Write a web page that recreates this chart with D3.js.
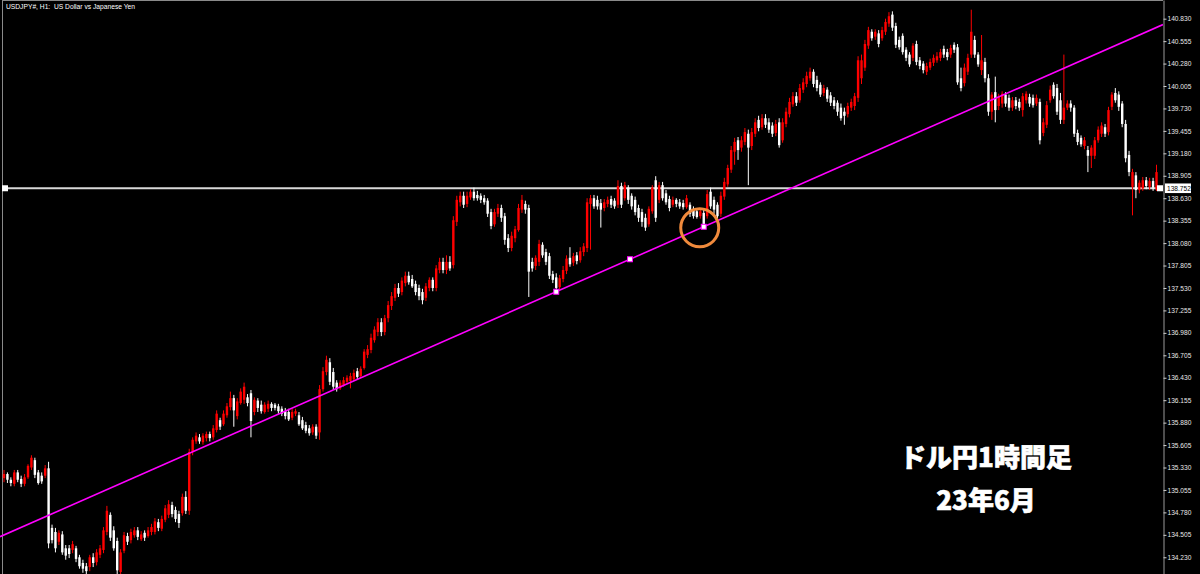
<!DOCTYPE html>
<html><head><meta charset="utf-8">
<script src="https://cdn.jsdelivr.net/npm/d3@7"></script>
<style>html,body{margin:0;padding:0;background:#000;overflow:hidden}</style>
</head><body><svg id="c" width="1200" height="574"></svg>
<script>
const openP=[
135.20,135.25,135.18,135.13,135.27,135.19,135.13,135.21,135.33,135.42,
135.27,135.23,135.23,135.32,134.59,134.54,134.42,134.51,134.34,134.34,
134.32,134.34,134.23,134.16,134.12,134.11,134.23,134.17,134.26,134.32,
134.54,134.75,134.56,134.43,134.05,134.31,134.49,134.44,134.50,134.56,
134.45,134.53,134.49,134.54,134.54,134.66,134.58,134.69,134.75,134.87,
134.81,134.76,134.77,134.97,134.80,135.52,135.65,135.70,135.64,135.69,
135.74,135.70,135.79,135.91,135.86,135.97,136.07,136.18,135.96,136.12,
136.16,136.19,136.24,136.01,136.15,136.10,136.01,136.05,136.11,136.10,
136.08,136.05,136.02,136.01,135.94,135.99,135.97,135.91,135.85,135.81,
135.76,135.83,135.76,136.29,136.50,136.62,136.50,136.37,136.30,136.34,
136.38,136.39,136.41,136.51,136.45,136.55,136.71,136.77,136.89,136.99,
137.11,136.99,137.16,137.31,137.41,137.53,137.48,137.59,137.68,137.64,
137.58,137.53,137.48,137.41,137.53,137.63,137.53,137.75,137.85,137.75,
137.85,137.81,138.34,138.58,138.66,138.56,138.64,138.71,138.67,138.66,
138.63,138.60,138.46,138.31,138.44,138.51,138.41,138.14,138.02,138.14,
138.24,138.49,138.56,138.51,137.85,137.80,137.85,138.06,137.97,137.92,
137.70,137.66,137.54,137.64,137.74,137.90,137.84,137.93,137.87,137.97,
138.02,138.56,138.63,138.61,138.57,138.51,138.56,138.62,138.60,138.55,
138.78,138.63,138.76,138.66,138.61,138.51,138.46,138.39,138.31,138.47,
138.85,138.61,138.79,138.69,138.62,138.55,138.61,138.58,138.57,138.52,
138.55,138.50,138.47,138.41,138.45,138.41,138.71,138.61,138.55,138.44,
138.65,138.80,138.98,139.20,139.34,139.25,139.32,139.42,139.27,139.42,
139.59,139.50,139.61,139.56,139.52,139.43,139.56,139.34,139.54,139.66,
139.78,139.88,139.83,139.96,140.03,140.10,140.18,140.08,140.02,139.92,
139.96,139.89,139.83,139.80,139.74,139.69,139.66,139.74,139.76,139.86,
140.10,140.23,140.50,140.67,140.61,140.65,140.59,140.67,140.77,140.88,
140.74,140.57,140.62,140.45,140.39,140.35,140.52,140.32,140.28,140.18,
140.23,140.29,140.32,140.35,140.46,140.42,140.39,140.51,140.48,140.10,
140.04,140.18,140.39,140.57,140.39,140.20,140.30,140.10,139.69,139.93,
139.76,139.79,139.90,139.86,139.74,139.83,139.81,139.71,139.83,139.87,
139.86,139.79,139.81,139.43,139.53,139.83,140.02,139.98,139.83,139.59,
139.74,139.79,139.74,139.43,139.37,139.27,139.22,139.15,139.15,139.34,
139.42,139.50,139.44,139.75,139.92,139.90,139.79,139.54,139.16,138.77,
138.91,138.73,138.75,138.85,138.77,138.84,138.74];
const highP=[
135.30,135.27,135.21,135.30,135.30,135.23,135.25,135.37,135.48,135.45,
135.30,135.27,135.36,135.40,134.63,134.59,134.56,134.55,134.38,134.38,
134.43,134.37,134.26,134.20,134.16,134.26,134.28,134.33,134.38,134.60,
134.86,134.78,134.61,134.47,134.33,134.54,134.53,134.58,134.60,134.60,
134.55,134.56,134.60,134.64,134.71,134.70,134.74,134.87,134.93,134.91,
134.85,134.80,135.01,135.04,135.56,135.70,135.76,135.74,135.75,135.77,
135.77,135.85,136.03,135.94,136.03,136.12,136.26,136.22,136.18,136.30,
136.37,136.23,136.28,136.19,136.18,136.15,136.13,136.15,136.13,136.12,
136.11,136.08,136.06,136.05,136.05,136.05,136.01,135.95,135.89,135.85,
135.86,135.86,136.34,136.56,136.70,136.67,136.55,136.40,136.40,136.44,
136.46,136.49,136.53,136.55,136.57,136.78,136.83,136.97,137.06,137.16,
137.16,137.20,137.37,137.48,137.58,137.59,137.66,137.73,137.73,137.69,
137.62,137.57,137.52,137.59,137.66,137.66,137.81,137.90,137.90,137.93,
137.92,138.41,138.66,138.71,138.71,138.71,138.74,138.76,138.72,138.69,
138.67,138.63,138.50,138.50,138.56,138.55,138.45,138.19,138.22,138.29,
138.56,138.67,138.60,138.55,137.90,137.93,138.12,138.09,138.01,137.96,
137.74,137.71,137.69,137.80,137.93,138.03,137.96,137.97,138.03,138.08,
138.63,138.67,138.67,138.66,138.62,138.62,138.65,138.66,138.63,138.85,
138.82,138.83,138.79,138.69,138.65,138.55,138.50,138.44,138.53,138.79,
138.90,138.83,138.83,138.73,138.66,138.65,138.63,138.62,138.61,138.67,
138.58,138.53,138.51,138.51,138.49,138.73,138.76,138.65,138.58,138.71,
138.88,139.04,139.27,139.37,139.38,139.39,139.49,139.47,139.49,139.61,
139.64,139.66,139.66,139.61,139.56,139.59,139.61,139.61,139.74,139.86,
139.93,139.93,140.03,140.10,140.18,140.23,140.21,140.13,140.05,140.02,
139.99,139.93,139.87,139.83,139.79,139.74,139.80,139.85,139.92,140.37,
140.39,140.57,140.73,140.70,140.70,140.69,140.73,140.83,140.91,140.92,
140.78,140.61,140.65,140.48,140.42,140.53,140.56,140.36,140.31,140.29,
140.34,140.39,140.42,140.46,140.50,140.46,140.51,140.54,140.52,140.23,
140.28,140.40,140.94,140.62,140.42,140.63,140.35,140.15,139.93,140.12,
139.91,139.94,139.93,139.90,139.87,139.87,139.85,139.92,139.94,139.91,
139.90,139.90,139.85,139.61,139.82,140.01,140.05,140.03,139.92,140.39,
139.83,139.83,139.77,139.47,139.40,139.38,139.27,139.28,139.38,139.51,
139.56,139.54,139.75,139.93,139.98,139.94,139.82,139.59,139.21,138.99,
138.95,138.85,138.89,138.89,138.88,138.88,139.04];
const lowP=[
135.15,135.14,135.10,135.10,135.15,135.09,135.10,135.19,135.30,135.20,
135.12,135.13,135.20,134.34,134.40,134.29,134.38,134.26,134.20,134.22,
134.28,134.17,134.09,134.04,134.02,134.06,134.11,134.13,134.22,134.28,
134.50,134.43,134.31,134.02,134.00,134.28,134.38,134.40,134.47,134.44,
134.43,134.43,134.47,134.50,134.51,134.55,134.55,134.66,134.71,134.72,
134.66,134.59,134.74,134.76,134.75,135.48,135.62,135.62,135.61,135.65,
135.65,135.67,135.76,135.79,135.84,135.94,136.03,135.83,135.92,136.10,
136.11,136.08,135.70,135.97,136.01,135.99,135.99,136.01,136.02,136.03,
135.99,135.96,135.92,135.90,135.91,135.96,135.84,135.79,135.75,135.72,
135.73,135.68,135.67,136.26,136.46,136.34,136.28,136.26,136.28,136.32,
136.35,136.30,136.39,136.41,136.43,136.53,136.67,136.73,136.86,136.94,
136.94,136.95,137.11,137.26,137.37,137.42,137.44,137.55,137.57,137.53,
137.44,137.38,137.33,137.37,137.49,137.49,137.49,137.71,137.71,137.70,
137.74,137.77,138.29,138.53,138.51,138.52,138.61,138.60,138.60,138.57,
138.55,138.40,138.25,138.28,138.40,138.34,138.06,137.97,137.98,138.09,
138.22,138.45,138.44,137.42,137.73,137.75,137.80,137.90,137.81,137.64,
137.59,137.48,137.51,137.60,137.70,137.79,137.80,137.82,137.84,137.92,
137.97,138.00,138.50,138.49,138.27,138.47,138.52,138.51,138.50,138.51,
138.51,138.60,138.56,138.49,138.42,138.34,138.28,138.23,138.28,138.44,
138.34,138.57,138.60,138.55,138.47,138.52,138.52,138.50,138.49,138.50,
138.40,138.38,138.38,138.38,138.28,138.38,138.50,138.44,138.38,138.40,
138.61,138.77,138.94,139.04,139.10,139.20,139.28,138.79,139.22,139.38,
139.45,139.47,139.49,139.43,139.38,139.39,139.25,139.31,139.50,139.62,
139.75,139.76,139.80,139.92,139.99,140.07,139.99,139.94,139.87,139.88,
139.81,139.76,139.72,139.64,139.58,139.53,139.62,139.70,139.71,139.81,
140.03,140.19,140.46,140.56,140.57,140.48,140.56,140.63,140.73,140.68,
140.47,140.45,140.39,140.31,140.24,140.31,140.26,140.21,140.16,140.14,
140.20,140.25,140.29,140.31,140.35,140.32,140.35,140.41,140.02,139.94,
140.00,140.14,140.35,140.35,140.24,140.14,140.05,139.64,139.59,139.56,
139.71,139.74,139.75,139.70,139.70,139.72,139.70,139.63,139.79,139.75,
139.74,139.76,139.29,139.39,139.49,139.80,139.85,139.65,139.54,139.54,
139.71,139.69,139.38,139.28,139.26,139.23,138.95,139.00,139.11,139.31,
139.38,139.38,139.40,139.71,139.80,139.70,139.50,139.07,138.90,138.42,
138.63,138.69,138.72,138.74,138.73,138.72,138.72];
const closeP=[
135.25,135.18,135.14,135.27,135.18,135.13,135.21,135.35,135.45,135.24,
135.14,135.16,135.32,134.40,134.44,134.34,134.53,134.29,134.25,134.27,
134.39,134.21,134.12,134.09,134.06,134.23,134.16,134.29,134.34,134.56,
134.80,134.47,134.34,134.07,134.29,134.50,134.42,134.54,134.56,134.48,
134.51,134.47,134.56,134.60,134.67,134.59,134.70,134.83,134.88,134.76,
134.70,134.65,134.97,134.80,135.52,135.67,135.72,135.65,135.72,135.74,
135.69,135.81,135.99,135.83,135.99,136.08,136.18,136.03,136.14,136.26,
136.32,136.12,135.90,136.16,136.06,136.02,136.10,136.11,136.06,136.06,
136.02,135.99,135.96,135.92,136.01,136.02,135.86,135.81,135.78,135.75,
135.83,135.72,136.29,136.51,136.65,136.38,136.32,136.29,136.37,136.40,
136.43,136.45,136.49,136.44,136.54,136.75,136.78,136.92,137.02,137.11,
136.99,137.16,137.32,137.43,137.53,137.46,137.62,137.68,137.60,137.55,
137.48,137.43,137.38,137.55,137.63,137.53,137.77,137.85,137.75,137.85,
137.77,138.36,138.61,138.66,138.55,138.66,138.71,138.63,138.63,138.61,
138.58,138.44,138.29,138.46,138.51,138.39,138.12,138.02,138.17,138.25,
138.51,138.61,138.49,137.73,137.77,137.90,138.07,137.93,137.85,137.68,
137.63,137.53,137.65,137.75,137.89,137.82,137.92,137.86,137.98,138.04,
138.58,138.63,138.53,138.53,138.49,138.58,138.61,138.55,138.53,138.78,
138.55,138.79,138.61,138.53,138.46,138.39,138.34,138.27,138.50,138.76,
138.39,138.79,138.63,138.58,138.51,138.61,138.56,138.53,138.52,138.63,
138.44,138.41,138.40,138.47,138.31,138.68,138.53,138.49,138.41,138.66,
138.83,139.00,139.22,139.32,139.22,139.34,139.44,139.25,139.44,139.56,
139.49,139.61,139.53,139.47,139.42,139.54,139.28,139.56,139.69,139.81,
139.88,139.80,139.98,140.05,140.13,140.18,140.03,139.98,139.90,139.98,
139.85,139.80,139.76,139.69,139.61,139.64,139.76,139.81,139.88,140.32,
140.32,140.52,140.69,140.59,140.67,140.52,140.69,140.79,140.86,140.72,
140.51,140.48,140.42,140.35,140.27,140.50,140.30,140.25,140.20,140.25,
140.30,140.35,140.37,140.42,140.39,140.36,140.47,140.45,140.05,139.98,
140.23,140.35,140.67,140.39,140.27,140.32,140.10,139.69,139.90,139.71,
139.87,139.91,139.79,139.74,139.83,139.76,139.74,139.88,139.91,139.79,
139.77,139.86,139.34,139.56,139.77,139.96,139.88,139.69,139.59,139.74,
139.79,139.74,139.42,139.32,139.29,139.34,139.15,139.25,139.34,139.47,
139.52,139.42,139.71,139.90,139.83,139.75,139.54,139.12,138.95,138.95,
138.73,138.82,138.85,138.78,138.84,138.76,138.95];

const yTicks=[140.830,140.555,140.280,140.005,139.730,139.455,139.180,138.905,138.630,138.355,
138.080,137.805,137.530,137.255,136.980,136.705,136.430,136.155,135.880,135.605,
135.330,135.055,134.780,134.505,134.230];
const hLinePrice=138.752;
const trendAnchorIdx=[161,204];
const trendAnchorPrice=[137.484,138.28];
const titleText="USDJPY#, H1:  US Dollar vs Japanese Yen";
const captionLines=["ドル円1時間足","23年6月"];

const W=1200,H=574,axisX=1163;
const N=closeP.length;
const x=d3.scaleLinear().domain([0,N-1]).range([4,1156.5]);
const y=d3.scaleLinear().domain([134.025,141.059]).range([H,0]);

const svg=d3.select("#c");
svg.append("rect").attr("width",W).attr("height",H).attr("fill","#000");
const defs=svg.append("defs");
defs.append("clipPath").attr("id","plot").append("rect").attr("x",0).attr("y",0).attr("width",axisX).attr("height",H);

// frame
svg.append("line").attr("x1",2.5).attr("x2",2.5).attr("y1",0).attr("y2",H).attr("stroke","#8a8a8a").attr("stroke-width",1);
svg.append("line").attr("x1",2).attr("x2",axisX).attr("y1",0.5).attr("y2",0.5).attr("stroke","#8a8a8a").attr("stroke-width",1);

const plot=svg.append("g").attr("clip-path","url(#plot)");
const data=d3.range(N).map(i=>({i,o:openP[i],h:highP[i],l:lowP[i],c:closeP[i]}));
const col=d=>d.c>d.o?"#ff0000":"#ffffff";

// horizontal line
const yh=y(hLinePrice);
plot.append("line").attr("x1",2).attr("x2",axisX).attr("y1",yh).attr("y2",yh).attr("stroke","#d8d8d8").attr("stroke-width",2);

// candles
const cg=plot.append("g");
cg.selectAll("line.w").data(data).join("line").attr("class","w")
  .attr("x1",d=>x(d.i)).attr("x2",d=>x(d.i)).attr("y1",d=>y(d.h)).attr("y2",d=>y(d.l))
  .attr("stroke",col).attr("stroke-width",1);
cg.selectAll("rect.b").data(data).join("rect").attr("class","b")
  .attr("x",d=>x(d.i)-1.2).attr("width",2.4)
  .attr("y",d=>y(Math.max(d.o,d.c))).attr("height",d=>Math.max(1,Math.abs(y(d.o)-y(d.c))))
  .attr("fill",col);

// trend line
const tx0=x(trendAnchorIdx[0]),ty0=y(trendAnchorPrice[0]);
const tx1=x(trendAnchorIdx[1]),ty1=y(trendAnchorPrice[1]);
const slope=(ty1-ty0)/(tx1-tx0);
plot.append("line").attr("x1",0).attr("y1",ty0+(0-tx0)*slope)
  .attr("x2",axisX).attr("y2",ty0+(axisX-tx0)*slope)
  .attr("stroke","#ff00ff").attr("stroke-width",1.6);
const markers=[[tx0,ty0],[(tx0+tx1)/2,(ty0+ty1)/2],[tx1,ty1]];
plot.selectAll("rect.tm").data(markers).join("rect").attr("class","tm")
  .attr("x",d=>d[0]-2.5).attr("y",d=>d[1]-2.5).attr("width",5).attr("height",5)
  .attr("fill","#fff").attr("stroke","#ff00ff").attr("stroke-width",1);

// hline markers
plot.append("rect").attr("x",2).attr("y",yh-3).attr("width",6).attr("height",6).attr("fill","#fff");
plot.append("rect").attr("x",1157).attr("y",yh-3).attr("width",6).attr("height",6).attr("fill","#fff");

// orange circle
svg.append("circle").attr("cx",tx1-4).attr("cy",ty1+1).attr("r",19)
  .attr("fill","none").attr("stroke","#f08a3c").attr("stroke-width",3);

// axis
const ax=svg.append("g").attr("transform",`translate(${axisX+0.5},0)`)
  .call(d3.axisRight(y).tickValues(yTicks).tickSize(3).tickSizeOuter(0).tickPadding(1).tickFormat(d3.format(".3f")));
ax.select(".domain").attr("stroke","#9a9a9a");
ax.selectAll(".tick line").attr("stroke","#cfcfcf");
ax.selectAll(".tick text").attr("fill","#e8e8e8").style("font-family","'Liberation Sans',Arial,sans-serif").style("font-size","6.6px");

// price label
svg.append("rect").attr("x",1165).attr("y",yh-4.8).attr("width",26).attr("height",9.6).attr("fill","#fff");
svg.append("text").attr("x",1167).attr("y",yh+2.4).text(d3.format(".3f")(hLinePrice))
  .attr("fill","#000").style("font-family","'Liberation Sans',Arial,sans-serif").style("font-size","6.6px");

// title
svg.append("text").attr("x",6).attr("y",9).text(titleText).attr("fill","#fff")
  .style("font-family","'Liberation Sans',Arial,sans-serif").style("font-size","6.7px").attr("xml:space","preserve");

// caption
svg.selectAll("text.cap").data(captionLines).join("text").attr("class","cap")
  .attr("x",986).attr("y",(d,i)=>467+i*43).attr("text-anchor","middle").text(d=>d)
  .attr("fill","#fff").attr("stroke","#fff").attr("stroke-width",0.6)
  .style("font-family","'Noto Sans CJK JP',sans-serif").style("font-weight","900").style("font-size","26px");
</script></body></html>
